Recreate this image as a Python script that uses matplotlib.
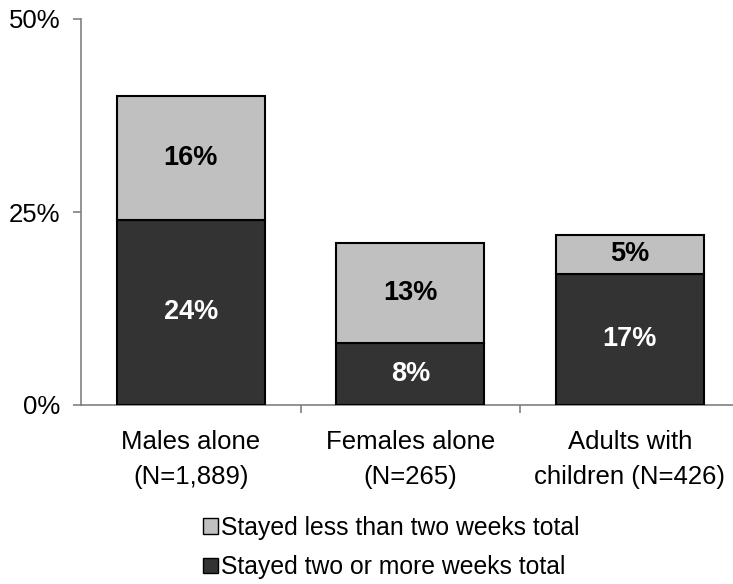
import matplotlib.pyplot as plt
import numpy as np

plt.rcParams['font.family'] = ['Liberation Sans', 'DejaVu Sans']

# data (percent)
categories = ['Males alone\n(N=1,889)', 'Females alone\n(N=265)', 'Adults with\nchildren (N=426)']
two_plus_weeks = [24, 8, 17]
less_two_weeks = [16, 13, 5]
series_names = ['Stayed less than two weeks total', 'Stayed two or more weeks total']

light = '#C0C0C0'
dark = '#333333'
axis_grey = '#808080'

fig = plt.figure(figsize=(7.33, 5.84), dpi=100)
W, H = 733, 584
# axes: left at x=81, 0% at y=405, 50% at y=19
ax = fig.add_axes([81 / W, (H - 405) / H, (739.5 - 81) / W, 386 / H])

x = np.arange(len(categories))
width = 0.676
bars_dark = ax.bar(x, two_plus_weeks, width, color=dark, edgecolor='black', linewidth=1.5, zorder=3)
bars_light = ax.bar(x, less_two_weeks, width, bottom=two_plus_weeks, color=light,
                    edgecolor='black', linewidth=1.5, zorder=3)

for i in range(len(categories)):
    ax.text(x[i], two_plus_weeks[i] / 2, f'{two_plus_weeks[i]}%', ha='center', va='center',
            color='white', fontsize=19.5, fontweight='bold', zorder=4)
    ax.text(x[i], two_plus_weeks[i] + less_two_weeks[i] / 2, f'{less_two_weeks[i]}%',
            ha='center', va='center', color='black', fontsize=19.5, fontweight='bold', zorder=4)

ax.set_xlim(-0.5, 2.5)
ax.set_ylim(0, 50)
ax.set_yticks([0, 25, 50])
ax.set_yticklabels(['0%', '25%', '50%'])
ax.set_xticks(x)
ax.set_xticklabels(categories, linespacing=1.6)
ax.set_xticks([0.5, 1.5, 2.5], minor=True)

for s in ['top', 'right']:
    ax.spines[s].set_visible(False)
for s in ['left', 'bottom']:
    ax.spines[s].set_color(axis_grey)
    ax.spines[s].set_linewidth(1.2)

ax.tick_params(axis='y', length=6, width=1.2, color=axis_grey, labelsize=18.5, pad=9)
ax.tick_params(axis='x', which='major', length=0, labelsize=18.5, pad=18)
ax.tick_params(axis='x', which='minor', length=6, width=1.2, color=axis_grey)

leg = fig.legend([bars_light, bars_dark], series_names, loc='upper left',
                 bbox_to_anchor=(193 / W, 1 - 506 / H), frameon=False, fontsize=17.8,
                 handlelength=0.6, handleheight=0.6, handletextpad=0.15, labelspacing=0.62,
                 borderaxespad=0)
for h in leg.legend_handles:
    h.set_linewidth(1.0)

fig.savefig('out.png', dpi=100)
